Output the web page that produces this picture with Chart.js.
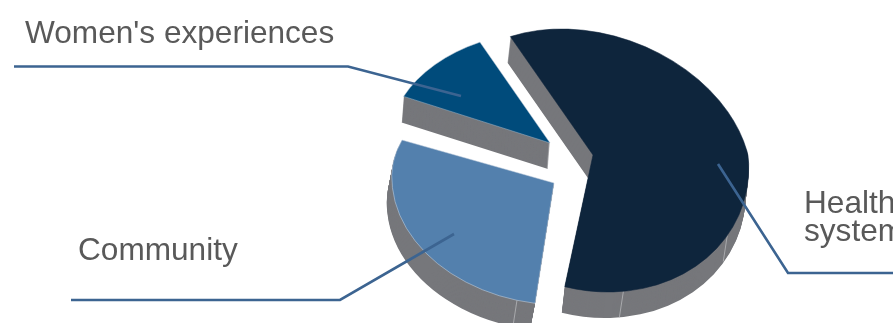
<!DOCTYPE html>
<html>
<head>
<meta charset="utf-8">
<title>Pie</title>
<style>
  html, body { margin: 0; padding: 0; background: #fff; overflow: hidden; }
  canvas { display: block; }
</style>
<script src="https://cdn.jsdelivr.net/npm/chart.js@4/dist/chart.umd.min.js"></script>
</head>
<body>
<canvas id="pie" width="893" height="323"></canvas>
<script>
// Data
const categories = [['Health', 'system'], 'Community', "Women's experiences"];
const shares = [60, 29, 11];

// Styles
const sliceColors = ['#0e253c', '#5380ad', '#004b7b'];
const edgeColors = ['#0e253c', '#c3d0de', '#9fb6c9'];
const sideColor = '#76777b';
const seamColor = '#a8a9ac';
const lineColor = '#3c6491';
const textColor = '#595959';

// Where each exploded slice sits: tip position, radii, lean above/below the tip,
// a small turn (degrees) and how far the side wall drifts left
const sliceFrames = [
    { x: 593, y: 155, rx: 155, up: 126, down: 137, leanUp: 0.25, leanDown: 0.11, turn: 1.5, sideDx: -3, seams: [174.3, 126] },
    { x: 554, y: 183, rx: 162, up: 106, down: 122, leanUp: 0.09, leanDown: 0.065, turn: -5, sideDx: -5, seams: [196] },
    { x: 550, y: 143, rx: 161, up: 112, down: 112, leanUp: 0, leanDown: 0, turn: -4.3, sideDx: -2, seams: [] }
];
const sideDepth = 26;

// Label text and leader lines
const labelSpots = [
    { x: 25, y: 43, lead: 28, line: [[14, 66.5], [348, 66.5], [461, 96]] },
    { x: 78, y: 260, lead: 28, line: [[71, 300], [340, 300], [454, 234]] },
    { x: 804, y: 213, lead: 28, line: [[718, 164], [788, 273], [893, 273]] }
];
const labelOrder = [2, 1, 0]; // spot index for each category

// Draws one arc in its frame, split at the tip so the upper and lower parts
// can use different vertical radii and lean (gives the tilted look)
function drawSlice(ctx, chart, el, frame, shiftX, shiftY) {
    const scaleX = frame.rx / el.outerRadius;
    const parts = [
        { top: 0, bottom: frame.y + shiftY, ry: frame.up, lean: frame.leanUp },
        { top: frame.y + shiftY, bottom: chart.height + sideDepth, ry: frame.down, lean: frame.leanDown }
    ];
    parts.forEach(part => {
        ctx.save();
        ctx.beginPath();
        ctx.rect(0, part.top, chart.width, part.bottom - part.top);
        ctx.clip();
        ctx.translate(frame.x + shiftX, frame.y + shiftY);
        ctx.transform(1, 0, part.lean, 1, 0, 0);
        ctx.scale(scaleX, part.ry / el.outerRadius);
        ctx.rotate(frame.turn * Math.PI / 180);
        ctx.translate(-el.x, -el.y);
        el.draw(ctx);
        ctx.restore();
    });
}

const tiltedPie = {
    id: 'tiltedPie',
    beforeDatasetsDraw(chart) {
        const ctx = chart.ctx;
        const arcs = chart.getDatasetMeta(0).data;

        // back to front: smallest slice first
        [2, 1, 0].forEach(i => {
            const el = arcs[i];
            const frame = sliceFrames[i];
            const topOptions = el.options;

            // side wall: the same arc stacked downwards in grey
            el.options = { ...topOptions, backgroundColor: sideColor, borderColor: sideColor, borderWidth: 0 };
            for (let d = sideDepth; d > 0; d--) {
                drawSlice(ctx, chart, el, frame, frame.sideDx * d / sideDepth, d);
            }
            el.options = topOptions;

            // thin seams on the wall
            frame.seams.forEach(deg => {
                const a = deg * Math.PI / 180;
                const rise = -frame.down * Math.cos(a);
                const sx = frame.x + frame.rx * Math.sin(a) + frame.leanDown * rise;
                const sy = frame.y + rise;
                ctx.save();
                ctx.strokeStyle = seamColor;
                ctx.lineWidth = 1;
                ctx.beginPath();
                ctx.moveTo(sx, sy);
                ctx.lineTo(sx - 4, sy + sideDepth);
                ctx.stroke();
                ctx.restore();
            });

            drawSlice(ctx, chart, el, frame, 0, 0);
        });
        return false; // normal arc drawing is replaced by the above
    },
    afterDraw(chart) {
        const ctx = chart.ctx;
        ctx.save();
        ctx.strokeStyle = lineColor;
        ctx.lineWidth = 2.6;
        ctx.lineJoin = 'miter';
        labelSpots.forEach(spot => {
            ctx.beginPath();
            spot.line.forEach((p, i) => i ? ctx.lineTo(p[0], p[1]) : ctx.moveTo(p[0], p[1]));
            ctx.stroke();
        });
        ctx.fillStyle = textColor;
        ctx.font = '31.6px "Liberation Sans", Arial, sans-serif';
        ctx.textBaseline = 'alphabetic';
        chart.data.labels.forEach((label, i) => {
            const spot = labelSpots[labelOrder[i]];
            [].concat(label).forEach((row, r) => ctx.fillText(row, spot.x, spot.y + r * spot.lead));
        });
        ctx.restore();
    }
};

new Chart(document.getElementById('pie').getContext('2d'), {
    type: 'pie',
    data: {
        labels: categories,
        datasets: [{
            data: shares,
            backgroundColor: sliceColors,
            borderColor: edgeColors,
            borderWidth: 0.6
        }]
    },
    options: {
        responsive: false,
        animation: false,
        rotation: -21.5,
        plugins: { legend: { display: false }, tooltip: { enabled: false } }
    },
    plugins: [tiltedPie]
});
</script>
</body>
</html>
